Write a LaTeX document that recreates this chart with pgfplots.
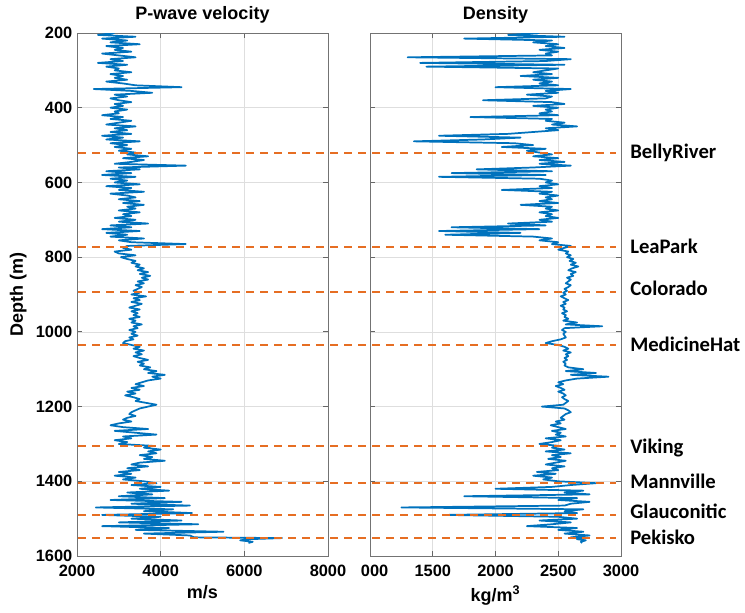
\documentclass[border=0pt]{standalone}
\usepackage{pgfplots}
\pgfplotsset{compat=1.18}
\usepackage{pgfplotstable}
\usepackage{fontspec}
\setmainfont{Liberation Sans}
\newfontfamily\carlito{Carlito}
\definecolor{mblue}{RGB}{0,114,189}
\definecolor{morange}{RGB}{230,110,35}

\pgfplotstableread{
depth vp rho
200 2900 2350
205 2500 2100
210 3400 2550
215 2600 1750
220 3200 2450
225 2800 2300
230 3500 2500
235 2700 2400
240 3100 2550
245 2900 2350
250 3300 2500
255 2600 2400
260 3000 2450
265 3400 1300
270 2800 2600
275 3100 2400
280 2500 1400
285 3200 2550
290 2700 1450
295 3000 2500
300 2900 2400
305 3300 2300
310 2800 2450
315 3100 2200
320 2900 2500
325 3200 2300
330 2700 2450
335 3100 2350
340 3400 2500
345 4500 2000
350 2400 2600
355 3300 2400
360 3800 2500
365 2900 2250
370 3200 2450
375 2800 2400
380 3000 1900
385 3300 2450
390 2900 2550
395 3100 2300
400 2800 2500
405 3200 2400
410 2900 2450
415 3000 2350
420 2600 2500
425 3100 1800
430 2800 2450
435 3300 2400
440 3000 2550
445 2700 2450
450 3400 2650
455 2900 2400
460 3200 2500
465 2800 2300
470 3300 2100
475 2600 1550
480 3100 2200
485 2700 1900
490 3500 1350
495 2800 2150
500 3200 2300
505 2900 2050
510 3300 2400
515 3000 2250
520 3400 2350
525 3200 2450
530 3700 2300
535 3100 2500
540 3600 2350
545 3300 2550
550 2900 2350
555 4600 2600
560 3000 2300
565 3500 1850
570 2700 2450
575 3300 1650
580 2600 2400
585 3400 1550
590 2800 2350
595 3200 2450
600 2900 2400
605 3500 2500
610 2700 2350
615 3300 2450
620 3000 2050
625 3600 2450
630 2800 2350
635 3200 2500
640 3400 2400
645 3000 2450
650 3500 2350
655 3100 2500
660 3600 2200
665 3200 2450
670 3400 2400
675 3000 2500
680 3500 2350
685 3100 2450
690 3300 2400
695 2900 2500
700 3400 2350
705 3000 2450
710 3700 2100
715 2800 2400
720 3300 1650
725 2600 2350
730 3500 1550
735 2700 2200
740 3200 1600
745 2800 2300
750 3600 2450
755 3000 2350
760 3300 2500
765 4600 2450
770 3200 2600
775 3100 2550
780 3300 2500
785 2900 2580
790 3000 2560
795 3400 2600
800 3050 2570
805 3200 2620
810 3400 2590
815 3300 2640
820 3500 2600
825 3400 2660
830 3600 2610
835 3450 2580
840 3700 2640
845 3500 2600
850 3750 2620
855 3550 2570
860 3700 2600
865 3450 2580
870 3600 2560
875 3400 2600
880 3550 2580
885 3450 2550
890 3350 2570
895 3500 2540
900 3300 2560
905 3650 2520
910 3350 2550
915 3500 2580
920 3300 2540
925 3550 2560
930 3400 2520
935 3250 2550
940 3500 2540
945 3300 2570
950 3450 2530
955 3350 2560
960 3500 2550
965 3250 2580
970 3400 2540
975 3300 2650
980 3550 2560
985 3350 2850
990 3450 2550
995 3250 2530
1000 3400 2560
1005 3300 2540
1010 3450 2550
1015 3250 2560
1020 3350 2520
1025 3150 2450
1030 3100 2400
1035 3300 2500
1040 3500 2550
1045 3350 2580
1050 3600 2540
1055 3400 2600
1060 3550 2560
1065 3350 2580
1070 3500 2550
1075 3700 2570
1080 3450 2540
1085 3600 2560
1090 3500 2550
1095 3750 2580
1100 3600 2700
1105 3900 2560
1110 3700 2800
1115 4100 2600
1120 3800 2900
1125 4000 2650
1130 3700 2560
1135 3550 2500
1140 3400 2540
1145 3600 2480
1150 3300 2520
1155 3500 2550
1160 3200 2500
1165 3400 2540
1170 3150 2560
1175 3350 2530
1180 3500 2550
1185 3400 2580
1190 3650 2560
1195 3900 2540
1200 3700 2370
1205 3500 2550
1210 3400 2580
1215 3300 2600
1220 3250 2560
1225 3400 2540
1230 3200 2520
1235 3100 2550
1240 3300 2480
1245 3000 2520
1250 2800 2440
1255 3100 2500
1260 3700 2560
1265 2900 2450
1270 3400 2520
1275 3900 2480
1280 3100 2560
1285 3300 2400
1290 2900 2520
1295 3200 2450
1300 3000 2350
1305 3800 2500
1310 3600 2450
1315 4000 2550
1320 3700 2400
1325 3900 2600
1330 3500 2450
1335 3800 2520
1340 3600 2420
1345 4100 2560
1350 3500 2480
1355 3300 2400
1360 3700 2550
1365 3200 2450
1370 3500 2500
1375 3000 2330
1380 3300 2480
1385 2900 2300
1390 3400 2450
1395 3100 2380
1400 3600 2500
1405 3900 2800
1410 3300 2600
1415 4000 2450
1420 3500 2000
1425 4200 2700
1430 3200 2550
1435 3800 2750
1440 3000 1750
1445 4100 2650
1450 2800 2500
1455 4500 2750
1460 3300 2600
1465 4700 2550
1470 2450 1250
1475 4300 2700
1480 3600 2550
1485 4750 2650
1490 2600 1600
1495 4000 2500
1500 3300 2650
1505 4500 2350
1510 3000 2600
1515 4900 2450
1520 2600 2250
1525 4200 2650
1530 3400 2500
1535 5500 2700
1540 3600 2550
1545 4700 2750
1550 4800 2600
1552 6900 2700
1555 6100 2650
1558 5900 2720
1562 6200 2680
1565 6100 2690
}\logdata

\pgfplotsset{
  panel/.style={
    scale only axis, width=188.25pt, height=392.25pt, anchor=south west,
    y dir=reverse, ymin=200, ymax=1600, ytick={200,400,...,1600},
    grid=major, major grid style={black!13, line width=0.5pt},
    axis line style={black!55, line width=0.6pt}, tick style={black!60, line width=0.6pt},
    tick align=inside, major tick length=4pt,
    tick label style={font=\bfseries\fontsize{12.3}{14}\selectfont},
    xticklabel style={yshift=-3pt},
    label style={font=\bfseries\fontsize{13.5}{16}\selectfont},
    title style={font=\bfseries\fontsize{13.5}{16}\selectfont, yshift=-2pt},
    /pgf/number format/assume math mode=true,
    /pgf/number format/1000 sep={},
  },
  top/.style={morange, line width=1.5pt, dash pattern=on 6pt off 4.5pt, mark=none},
  logline/.style={mblue, line width=1.3pt, line join=round, mark=none},
}

\begin{document}
\begin{tikzpicture}
\useasboundingbox (0,0) rectangle (558.75pt,459pt);

\begin{axis}[panel, at={(57.75pt,42pt)},
  xmin=2000, xmax=8000, xtick={2000,4000,6000,8000},
  title={P-wave velocity}, xlabel={m/s}, ylabel={Depth (m)}]
\addplot[logline] table[x=vp, y=depth]{\logdata};
\end{axis}

\begin{axis}[panel, at={(277.5pt,42pt)},
  xmin=1000, xmax=3000, xtick={1000,1500,2000,2500,3000},
  xticklabels={\phantom{1}000,1500,2000,2500,3000}, yticklabels={},
  title={Density}, xlabel={kg/m\textsuperscript{3}}]
\addplot[logline] table[x=rho, y=depth]{\logdata};
\end{axis}

\begin{axis}[at={(57.75pt,42pt)}, anchor=south west, scale only axis,
  width=408pt, height=392.25pt, xmin=77, xmax=621, ymin=200, ymax=1600,
  y dir=reverse, hide axis, clip=false]
\addplot[top] coordinates {(78,522) (616,522)};
\addplot[top] coordinates {(78,772) (616,772)};
\addplot[top] coordinates {(78,894) (616,894)};
\addplot[top] coordinates {(78,1034) (616,1034)};
\addplot[top] coordinates {(78,1306) (616,1306)};
\addplot[top] coordinates {(78,1404) (616,1404)};
\addplot[top] coordinates {(78,1490) (616,1490)};
\addplot[top] coordinates {(78,1552) (616,1552)};
\begin{scope}[every node/.style={anchor=west, inner sep=0pt, font=\carlito\bfseries\fontsize{15.5}{18}\selectfont}]
\node at (axis cs:630,521) {BellyRiver};
\node at (axis cs:630,772) {LeaPark};
\node at (axis cs:630,883) {Colorado};
\node at (axis cs:630,1034) {MedicineHat};
\node at (axis cs:630,1310) {Viking};
\node at (axis cs:630,1400) {Mannville};
\node at (axis cs:630,1479) {Glauconitic};
\node at (axis cs:630,1549) {Pekisko};
\end{scope}
\end{axis}
\end{tikzpicture}
\end{document}
